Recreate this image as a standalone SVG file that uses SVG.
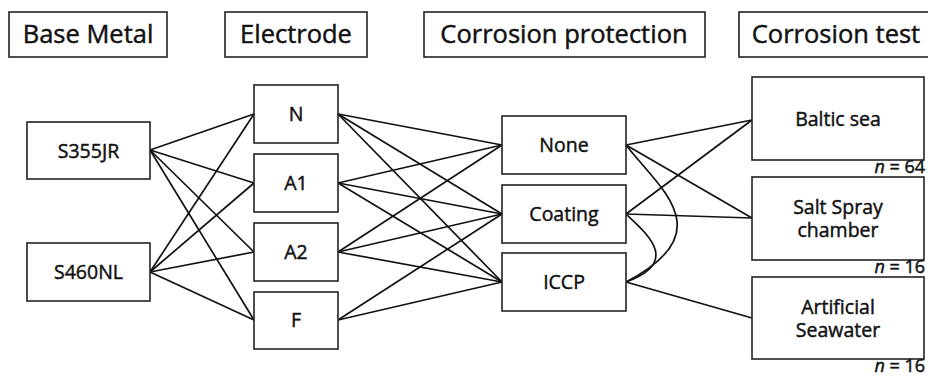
<svg xmlns="http://www.w3.org/2000/svg" width="928" height="376" viewBox="0 0 928 376">
<style>
rect{fill:#fff;stroke:#222;stroke-width:1.6}
text{font-family:"Open Sans","Noto Sans",sans-serif;fill:#111;text-anchor:middle;stroke:#111;stroke-width:0.45}
.h{font-size:25.5px}
.n{font-size:19.5px}
.c{font-size:18px;text-anchor:end}
#connectors path,#connectors line{stroke:#111;stroke-width:1.7;fill:none}
</style>
<rect x="0" y="0" width="928" height="376" style="fill:#fff;stroke:none"/>
<g id="connectors">
<line x1="150" y1="150" x2="254" y2="114"/>
<line x1="150" y1="150" x2="254" y2="183"/>
<line x1="150" y1="150" x2="254" y2="252"/>
<line x1="150" y1="150" x2="254" y2="320"/>
<line x1="150" y1="272" x2="254" y2="114"/>
<line x1="150" y1="272" x2="254" y2="183"/>
<line x1="150" y1="272" x2="254" y2="252"/>
<line x1="150" y1="272" x2="254" y2="320"/>
<line x1="338" y1="114" x2="502" y2="145"/>
<line x1="338" y1="114" x2="502" y2="214"/>
<line x1="338" y1="114" x2="502" y2="282"/>
<line x1="338" y1="183" x2="502" y2="145"/>
<line x1="338" y1="183" x2="502" y2="214"/>
<line x1="338" y1="183" x2="502" y2="282"/>
<line x1="338" y1="252" x2="502" y2="145"/>
<line x1="338" y1="252" x2="502" y2="214"/>
<line x1="338" y1="252" x2="502" y2="282"/>
<line x1="338" y1="320" x2="502" y2="214"/>
<line x1="338" y1="320" x2="502" y2="282"/>
<line x1="626" y1="145" x2="752" y2="120"/>
<line x1="626" y1="145" x2="752" y2="218"/>
<line x1="626" y1="214" x2="752" y2="120"/>
<line x1="626" y1="214" x2="752" y2="218"/>
<line x1="626" y1="282" x2="752" y2="318"/>
<path d="M626,145 C660,189 722,232 626,282"/>
<path d="M626,214 C646,233 682,262 626,282"/>
</g>
<g id="hdr-base"><rect x="9" y="12" width="158" height="45"/><text class="h" x="88" y="43">Base Metal</text></g>
<g id="hdr-electrode"><rect x="225" y="12" width="142" height="45"/><text class="h" x="296" y="43">Electrode</text></g>
<g id="hdr-protection"><rect x="424" y="12" width="281" height="45"/><text class="h" x="564" y="43">Corrosion protection</text></g>
<g id="hdr-test"><rect x="739" y="12" width="195" height="45"/><text class="h" x="836" y="43">Corrosion test</text></g>
<g id="s355jr"><rect x="27" y="122" width="123" height="57"/><text class="n" x="88.5" y="158">S355JR</text></g>
<g id="s460nl"><rect x="27" y="243" width="123" height="58"/><text class="n" x="88.5" y="279">S460NL</text></g>
<g id="el-n"><rect x="254" y="85" width="84" height="58"/><text class="n" x="296" y="121">N</text></g>
<g id="el-a1"><rect x="254" y="154" width="84" height="58"/><text class="n" x="296" y="190">A1</text></g>
<g id="el-a2"><rect x="254" y="223" width="84" height="58"/><text class="n" x="296" y="259">A2</text></g>
<g id="el-f"><rect x="254" y="292" width="84" height="57"/><text class="n" x="296" y="327">F</text></g>
<g id="pr-none"><rect x="502" y="116" width="124" height="58"/><text class="n" x="564" y="152">None</text></g>
<g id="pr-coating"><rect x="502" y="185" width="124" height="58"/><text class="n" x="564" y="221">Coating</text></g>
<g id="pr-iccp"><rect x="502" y="253" width="124" height="58"/><text class="n" x="564" y="289">ICCP</text></g>
<g id="t-baltic"><rect x="752" y="77" width="172" height="83"/><text class="n" x="838" y="126">Baltic sea</text><text class="c" x="925" y="173"><tspan font-style="italic">n</tspan> = 64</text></g>
<g id="t-salt"><rect x="752" y="177" width="172" height="83"/><text class="n" x="838" y="214">Salt Spray</text><text class="n" x="838" y="237">chamber</text><text class="c" x="925" y="273"><tspan font-style="italic">n</tspan> = 16</text></g>
<g id="t-art"><rect x="752" y="277" width="172" height="82"/><text class="n" x="838" y="314">Artificial</text><text class="n" x="838" y="337">Seawater</text><text class="c" x="925" y="372"><tspan font-style="italic">n</tspan> = 16</text></g>
</svg>
